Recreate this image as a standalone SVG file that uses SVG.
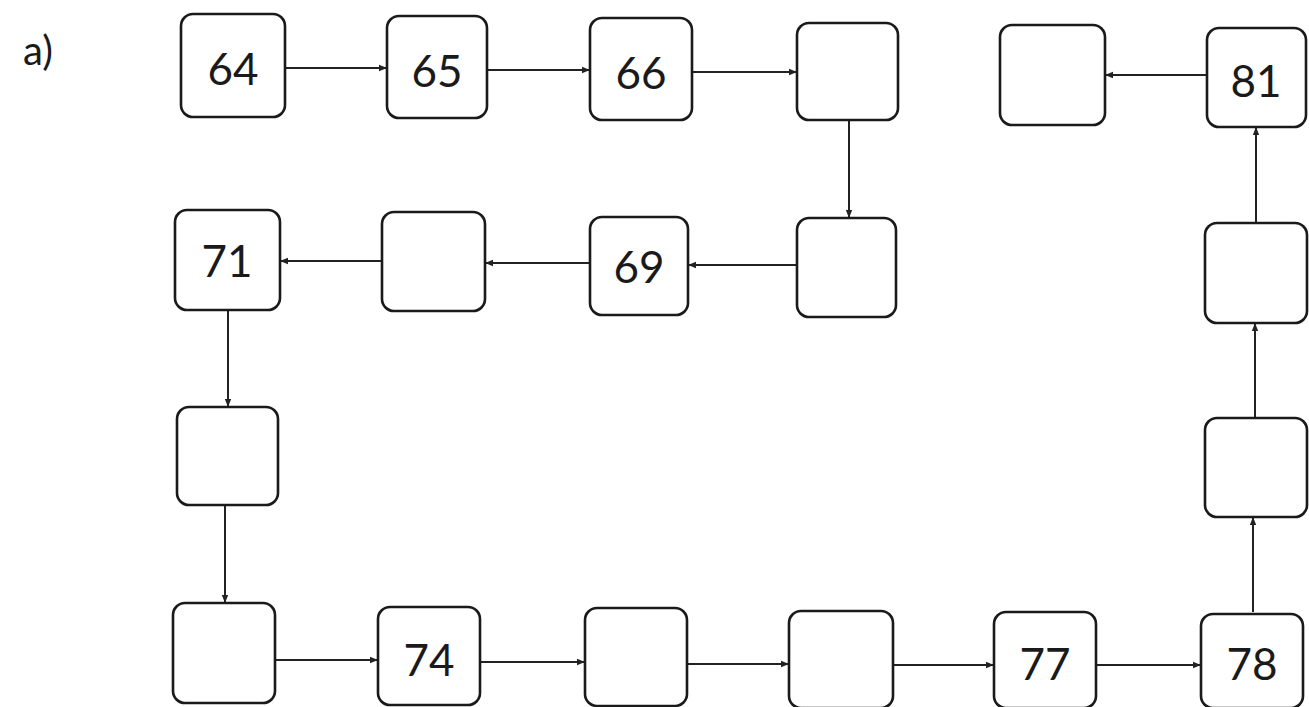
<svg xmlns="http://www.w3.org/2000/svg" width="1309" height="707" viewBox="0 0 1309 707">
<defs>
<marker id="ah" viewBox="0 0 10 10" refX="10" refY="5" markerWidth="10" markerHeight="8" markerUnits="userSpaceOnUse" orient="auto">
<path d="M0,1 L10,5 L0,9 Z" fill="#222"/>
</marker>
<style>
.box{fill:#fff;stroke:#1a1a1a;stroke-width:2.6}
.lbl{font-family:"Lato","Liberation Sans",sans-serif;font-size:44px;fill:#1a1a1a;text-anchor:middle;dominant-baseline:central}
.c line{stroke:#222;stroke-width:2;marker-end:url(#ah)}
</style>
</defs>
<rect width="1309" height="707" fill="#fff"/>
<text x="38" y="50" style="font-family:'Lato','Liberation Sans',sans-serif;font-size:40px;fill:#1a1a1a;text-anchor:middle;dominant-baseline:central">a)</text>
<g class="c" id="connectors">
<line x1="285" y1="68" x2="387" y2="68"/>
<line x1="487" y1="70" x2="590" y2="70"/>
<line x1="692" y1="72" x2="797" y2="72"/>
<line x1="849" y1="120" x2="849" y2="218"/>
<line x1="797" y1="265" x2="688" y2="265"/>
<line x1="590" y1="263" x2="485" y2="263"/>
<line x1="382" y1="261" x2="280" y2="261"/>
<line x1="228" y1="310" x2="228" y2="407"/>
<line x1="225" y1="505" x2="225" y2="603"/>
<line x1="275" y1="660" x2="378" y2="660"/>
<line x1="480" y1="662" x2="585" y2="662"/>
<line x1="687" y1="664" x2="789" y2="664"/>
<line x1="893" y1="665" x2="994" y2="665"/>
<line x1="1096" y1="665" x2="1201" y2="665"/>
<line x1="1253" y1="612" x2="1253" y2="517"/>
<line x1="1255" y1="418" x2="1255" y2="323"/>
<line x1="1256" y1="223" x2="1256" y2="127"/>
<line x1="1207" y1="75" x2="1105" y2="75"/>
</g>
<g id="n64"><rect class="box" x="181" y="14" width="104" height="103" rx="12"/><text class="lbl" x="233" y="68">64</text></g>
<g id="n65"><rect class="box" x="387" y="16" width="100" height="102" rx="12"/><text class="lbl" x="437" y="70">65</text></g>
<g id="n66"><rect class="box" x="590" y="18" width="102" height="102" rx="12"/><text class="lbl" x="641" y="72">66</text></g>
<g id="n67"><rect class="box" x="797" y="23" width="101" height="97" rx="12"/></g>
<g id="n68"><rect class="box" x="797" y="218" width="99" height="99" rx="12"/></g>
<g id="n69"><rect class="box" x="590" y="217" width="98" height="98" rx="12"/><text class="lbl" x="639" y="266">69</text></g>
<g id="n70"><rect class="box" x="382" y="212" width="103" height="99" rx="12"/></g>
<g id="n71"><rect class="box" x="175" y="210" width="105" height="100" rx="12"/><text class="lbl" x="227" y="260">71</text></g>
<g id="n72"><rect class="box" x="177" y="407" width="101" height="98" rx="12"/></g>
<g id="n73"><rect class="box" x="173" y="603" width="102" height="100" rx="12"/></g>
<g id="n74"><rect class="box" x="378" y="607" width="102" height="98" rx="12"/><text class="lbl" x="429" y="659">74</text></g>
<g id="n75"><rect class="box" x="585" y="608" width="102" height="98" rx="12"/></g>
<g id="n76"><rect class="box" x="789" y="611" width="104" height="97" rx="12"/></g>
<g id="n77"><rect class="box" x="994" y="612" width="102" height="96" rx="12"/><text class="lbl" x="1045" y="663">77</text></g>
<g id="n78"><rect class="box" x="1201" y="614" width="102" height="94" rx="12"/><text class="lbl" x="1252" y="663">78</text></g>
<g id="n79"><rect class="box" x="1205" y="418" width="102" height="99" rx="12"/></g>
<g id="n80"><rect class="box" x="1205" y="223" width="102" height="100" rx="12"/></g>
<g id="n81"><rect class="box" x="1207" y="28" width="99" height="99" rx="12"/><text class="lbl" x="1256" y="80">81</text></g>
<g id="n82"><rect class="box" x="1000" y="25" width="105" height="100" rx="12"/></g>
</svg>
